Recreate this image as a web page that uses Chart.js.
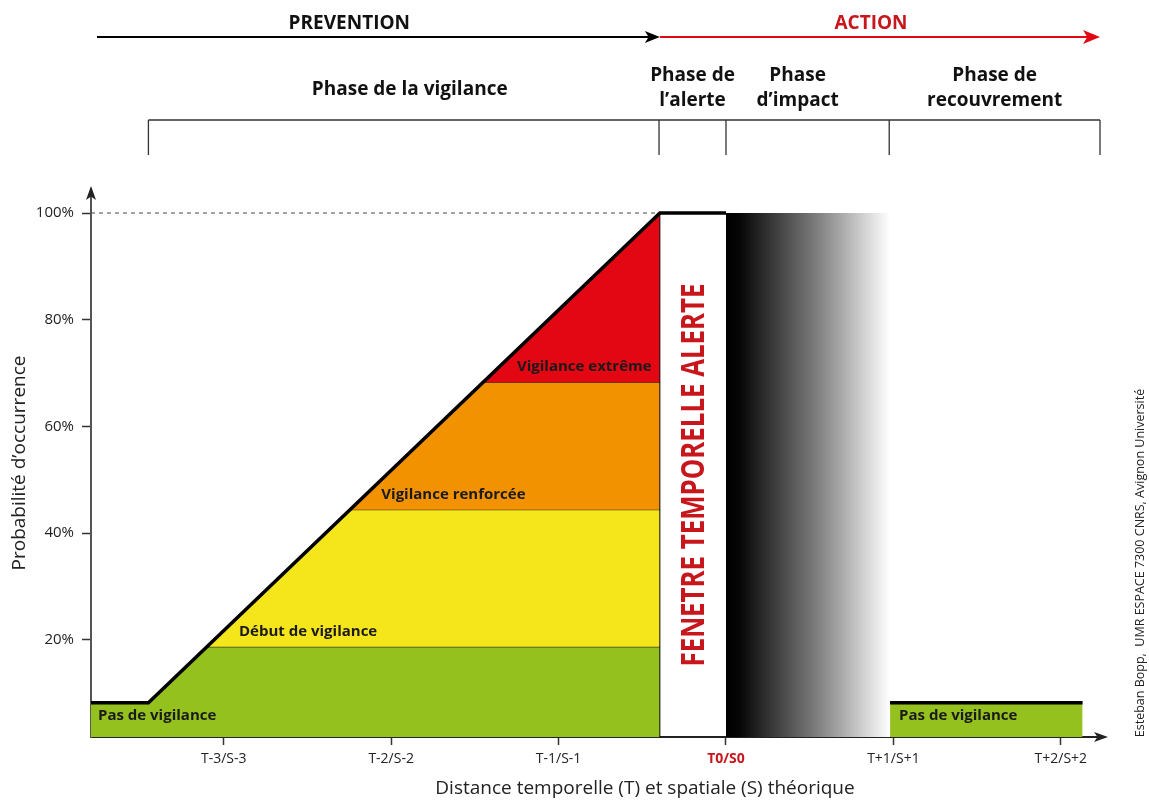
<!DOCTYPE html>
<html lang="fr">
<head>
<meta charset="utf-8">
<title>Phases de vigilance</title>
<script src="https://cdn.jsdelivr.net/npm/chart.js@4.4.1/dist/chart.umd.min.js"></script>
<style>
  html, body { margin: 0; padding: 0; background: #fff; }
  #wrap { width: 1149px; height: 801px; position: relative; }
</style>
</head>
<body>
<div id="wrap"><canvas id="chart"></canvas></div>
<script>
// --- données ---
const xTickValues = [-3, -2, -1, 0, 1, 2];
const xTickLabels = ['T-3/S-3', 'T-2/S-2', 'T-1/S-1', 'T0/S0', 'T+1/S+1', 'T+2/S+2'];
const yTickValues = [20, 40, 60, 80, 100];
const yTickLabels = ['20%', '40%', '60%', '80%', '100%'];

// seuils de vigilance (%) et abscisse où la pente atteint chaque seuil
const levels = [8.2, 18.7, 44.4, 68.3, 100];
const slopeX = [-3.45, -3.10, -2.25, -1.44, -0.395];
const bandNames = ['Pas de vigilance', 'Début de vigilance', 'Vigilance renforcée', 'Vigilance extrême'];
const bandColors = ['#95c11f', '#f5e51b', '#f39200', '#e30613'];

// fenêtres et phases sur l'axe des x
const alertWindow = [-0.395, 0];
const impactWindow = [0, 0.98];
const recoveryX = [0.98, 2.13];
const recoveryLevel = 8.2;
const phaseBounds = [-3.45, -0.40, 0, 0.975, 2.234];
const phaseNames = [['Phase de la vigilance'], ['Phase de', 'l’alerte'], ['Phase', 'd’impact'], ['Phase de', 'recouvrement']];

const X_MIN = -3.793, X_MAX = 2.234;
const Y_MIN = 1.8, Y_MAX = 104.5;

const X_TITLE = 'Distance temporelle (T) et spatiale (S) théorique';
const Y_TITLE = 'Probabilité d’occurrence';

const RED_TEXT = '#c8161d';
const pt = (x, y) => ({ x, y });
const peak = slopeX[4];

// dégradé de la phase d'impact
function impactGradient(context) {
    const chart = context.chart;
    const { ctx, chartArea, scales } = chart;
    if (!chartArea) return '#888';
    const x0 = scales.x.getPixelForValue(impactWindow[0]);
    const x1 = scales.x.getPixelForValue(impactWindow[1]);
    const g = ctx.createLinearGradient(x0, 0, x1, 0);
    g.addColorStop(0, '#000');
    g.addColorStop(0.08, '#050505');
    g.addColorStop(0.55, '#7d7d7d');
    g.addColorStop(1, '#fff');
    return g;
}

const datasets = [
    // contour épais (dessiné au-dessus)
    {
        data: [pt(X_MIN, levels[0]), pt(slopeX[0], levels[0]), pt(peak, levels[4]), pt(alertWindow[1], levels[4])],
        borderColor: '#000', borderWidth: 3.5, fill: false
    },
    // pas de vigilance (après l'impact)
    {
        data: recoveryX.map(x => pt(x, recoveryLevel)),
        borderColor: '#000', borderWidth: 3.5, backgroundColor: bandColors[0], fill: 'start'
    },
    // bord gauche de la fenêtre d'alerte
    {
        data: [pt(alertWindow[0], Y_MIN), pt(alertWindow[0], levels[4])],
        borderColor: '#000', borderWidth: 1, fill: false
    },
    // pointillé 100 %
    {
        data: [pt(X_MIN, 100), pt(peak, 100)],
        borderColor: '#444', borderWidth: 1, borderDash: [4, 4], fill: false
    },
    // vigilance extrême
    {
        data: [pt(slopeX[3], levels[3]), pt(peak, levels[4])],
        borderColor: '#000', borderWidth: 1, backgroundColor: bandColors[3], fill: { value: levels[3] }
    },
    // vigilance renforcée
    {
        data: [pt(slopeX[2], levels[2]), pt(slopeX[3], levels[3]), pt(peak, levels[3])],
        borderColor: '#000', borderWidth: 1, backgroundColor: bandColors[2], fill: { value: levels[2] }
    },
    // début de vigilance
    {
        data: [pt(slopeX[1], levels[1]), pt(slopeX[2], levels[2]), pt(peak, levels[2])],
        borderColor: '#000', borderWidth: 1, backgroundColor: bandColors[1], fill: { value: levels[1] }
    },
    // pas de vigilance
    {
        data: [pt(X_MIN, levels[0]), pt(slopeX[0], levels[0]), pt(slopeX[1], levels[1]), pt(peak, levels[1])],
        borderColor: '#000', borderWidth: 1, backgroundColor: bandColors[0], fill: 'start'
    },
    // phase d'impact
    {
        data: [pt(impactWindow[0], 100), pt(impactWindow[1], 100)],
        borderWidth: 0, borderColor: 'rgba(0,0,0,0)', backgroundColor: impactGradient, fill: 'start'
    }
];

function drawText(ctx, str, x, y, font, color, align) {
    ctx.font = font;
    ctx.fillStyle = color;
    ctx.textAlign = align || 'center';
    ctx.textBaseline = 'middle';
    ctx.fillText(str, x, y);
}

function arrowHead(ctx, tipX, tipY, dir, len, half, color) {
    // dir: 'right' ou 'up'
    ctx.fillStyle = color;
    ctx.beginPath();
    if (dir === 'right') {
        ctx.moveTo(tipX, tipY);
        ctx.lineTo(tipX - len, tipY - half);
        ctx.lineTo(tipX - len * 0.75, tipY);
        ctx.lineTo(tipX - len, tipY + half);
    } else {
        ctx.moveTo(tipX, tipY);
        ctx.lineTo(tipX - half, tipY + len);
        ctx.lineTo(tipX, tipY + len * 0.75);
        ctx.lineTo(tipX + half, tipY + len);
    }
    ctx.closePath();
    ctx.fill();
}

const decorations = {
    id: 'decorations',
    afterDraw(chart) {
        const { ctx, chartArea: a, scales: { x, y } } = chart;
        const px = v => x.getPixelForValue(v);
        const py = v => y.getPixelForValue(v);
        const bold = s => `bold ${s}px "Open Sans", sans-serif`;
        ctx.save();

        // flèches des axes
        arrowHead(ctx, a.left, a.top - 3, 'up', 14, 5, '#222');
        arrowHead(ctx, a.right + 8, a.bottom, 'right', 14, 5, '#222');

        // titre de l'axe x (décalé vers la droite comme sur l'original)
        drawText(ctx, X_TITLE, 645, 789, '19px "Open Sans", sans-serif', '#222');

        // PREVENTION / ACTION
        const yArrow = 37;
        const split = px(alertWindow[0]);
        ctx.lineWidth = 2;
        ctx.strokeStyle = '#000';
        ctx.beginPath(); ctx.moveTo(a.left + 6, yArrow); ctx.lineTo(split - 8, yArrow); ctx.stroke();
        arrowHead(ctx, split, yArrow, 'right', 15, 6, '#000');
        ctx.strokeStyle = '#e30613';
        ctx.beginPath(); ctx.moveTo(split, yArrow); ctx.lineTo(a.right - 8, yArrow); ctx.stroke();
        arrowHead(ctx, a.right, yArrow, 'right', 17, 7, '#e30613');
        drawText(ctx, 'PREVENTION', px(-2.25), 24, bold(19), '#111');
        drawText(ctx, 'ACTION', px(0.866), 24, bold(19), RED_TEXT);

        // accolade des phases
        const yBr = 120;
        ctx.strokeStyle = '#333';
        ctx.lineWidth = 1.3;
        ctx.beginPath();
        ctx.moveTo(px(phaseBounds[0]), yBr);
        ctx.lineTo(px(phaseBounds[phaseBounds.length - 1]), yBr);
        phaseBounds.forEach(b => { ctx.moveTo(px(b), yBr); ctx.lineTo(px(b), yBr + 35); });
        ctx.stroke();
        const nudge = [6, 0, -10, 0];
        phaseNames.forEach((lines, i) => {
            const cx = (px(phaseBounds[i]) + px(phaseBounds[i + 1])) / 2 + nudge[i];
            if (lines.length === 1) {
                drawText(ctx, lines[0], cx, 90, bold(19), '#111');
            } else {
                drawText(ctx, lines[0], cx, 76, bold(19), '#111');
                drawText(ctx, lines[1], cx, 101, bold(19), '#111');
            }
        });

        // noms des niveaux de vigilance
        const labelFont = bold(15);
        const baseY = (py(levels[0]) + a.bottom) / 2 - 4;
        drawText(ctx, bandNames[0], a.left + 7, baseY, labelFont, '#1a1a1a', 'left');
        drawText(ctx, bandNames[0], px(recoveryX[0]) + 9, baseY, labelFont, '#1a1a1a', 'left');
        for (let i = 1; i < bandNames.length; i++) {
            drawText(ctx, bandNames[i], px(slopeX[i]) + 32, py(levels[i]) - 15, labelFont, '#1a1a1a', 'left');
        }

        // FENETRE TEMPORELLE ALERTE
        const fx = (px(alertWindow[0]) + px(alertWindow[1])) / 2;
        const fy = (py(100) + a.bottom) / 2;
        ctx.save();
        ctx.translate(fx, fy);
        ctx.rotate(-Math.PI / 2);
        ctx.font = bold(32);
        const w = ctx.measureText('FENETRE TEMPORELLE ALERTE').width;
        ctx.scale(Math.min(1, 383 / w), 1);
        drawText(ctx, 'FENETRE TEMPORELLE ALERTE', 0, 2, bold(32), RED_TEXT);
        ctx.restore();

        // crédit
        ctx.save();
        ctx.translate(1140, 563);
        ctx.rotate(-Math.PI / 2);
        drawText(ctx, 'Esteban Bopp,  UMR ESPACE 7300 CNRS, Avignon Université', 0, 0, '12.5px "Open Sans", sans-serif', '#222');
        ctx.restore();

        ctx.restore();
    }
};

Chart.defaults.font.family = '"Open Sans", sans-serif';

new Chart(document.getElementById('chart'), {
    type: 'line',
    data: { datasets },
    options: {
        responsive: true,
        maintainAspectRatio: false,
        animation: false,
        layout: { padding: { top: 189, left: 0, right: 49, bottom: 0 } },
        elements: { point: { radius: 0 }, line: { tension: 0 } },
        plugins: { legend: { display: false }, tooltip: { enabled: false } },
        scales: {
            x: {
                type: 'linear',
                min: X_MIN,
                max: X_MAX,
                afterBuildTicks: s => { s.ticks = xTickValues.map(v => ({ value: v })); },
                afterFit: s => { s.height = 64; },
                ticks: {
                    autoSkip: false,
                    maxRotation: 0,
                    padding: 6,
                    callback: (v, i) => xTickLabels[i],
                    color: c => (c.tick && c.tick.value === 0 ? RED_TEXT : '#222'),
                    font: c => ({ size: 14, weight: c.tick && c.tick.value === 0 ? 'bold' : 'normal' })
                },
                grid: { drawOnChartArea: false, tickLength: 8, tickColor: '#333', tickWidth: 1.5 },
                border: { color: '#222', width: 2 },
                title: { display: false }
            },
            y: {
                min: Y_MIN,
                max: Y_MAX,
                afterBuildTicks: s => { s.ticks = yTickValues.map(v => ({ value: v })); },
                afterFit: s => { s.width = 91; },
                ticks: {
                    padding: 8,
                    color: '#222',
                    font: { size: 15 },
                    callback: (v, i) => yTickLabels[i]
                },
                grid: { drawOnChartArea: false, tickLength: 9, tickColor: '#333', tickWidth: 1.5 },
                border: { color: '#555', width: 2 },
                title: {
                    display: true,
                    text: Y_TITLE,
                    color: '#222',
                    font: { size: 19 },
                    padding: { top: 8, bottom: 0 }
                }
            }
        }
    },
    plugins: [decorations]
});
</script>
</body>
</html>
